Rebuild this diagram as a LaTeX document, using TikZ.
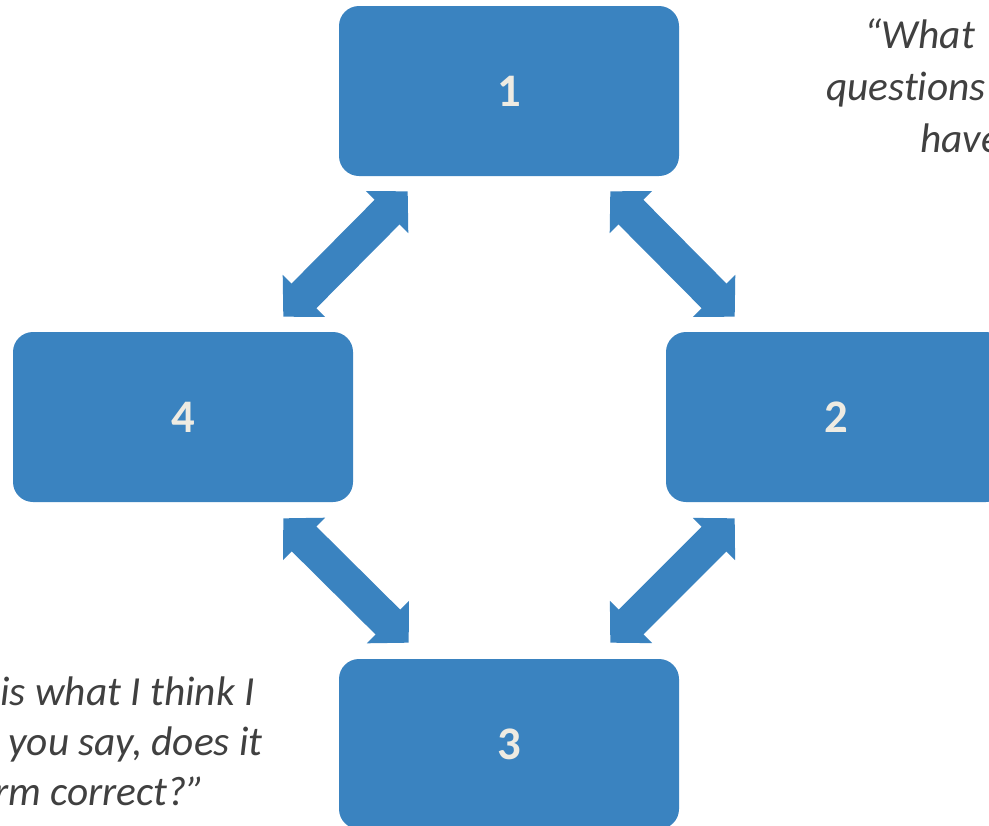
\documentclass[tikz,border=0pt]{standalone}
\usepackage{fontspec}
\setmainfont{Carlito}[Ligatures=NoCommon]
\usetikzlibrary{arrows.meta,calc}
\definecolor{boxblue}{RGB}{58,131,192}
\definecolor{numtext}{RGB}{238,235,226}
\definecolor{quotetext}{RGB}{64,64,64}
\begin{document}
\begin{tikzpicture}[x=0.75pt,y=-0.75pt,
  stepbox/.style={fill=boxblue, rounded corners=15pt, minimum width=255pt, minimum height=127.5pt, inner sep=0pt, text=numtext, font=\fontsize{35}{42}\selectfont\bfseries},
  dblarrow/.style={draw=boxblue, line width=26.25pt, {Triangle[length=22pt,width=43.5pt]}-{Triangle[length=22pt,width=43.5pt]}},
  quote/.style={text=quotetext, font=\fontsize{31}{38}\selectfont\itshape, inner sep=0pt}]
\useasboundingbox (0,0) rectangle (989,825);
\clip (0,0) rectangle (989,825);
\node[stepbox] (b1) at (509,91) {1};
\node[stepbox] (b2) at (836,417) {2};
\node[stepbox] (b3) at (509,744) {3};
\node[stepbox] (b4) at (183,417) {4};
\draw[dblarrow] ($(b4.north east)+(-70,-15)$) -- ($(b1.south west)+(69,15)$);
\draw[dblarrow] ($(b1.south east)+(-69,15)$) -- ($(b2.north west)+(69,-15)$);
\draw[dblarrow] ($(b2.south west)+(69,16)$) -- ($(b3.north east)+(-69,-16)$);
\draw[dblarrow] ($(b3.north west)+(70,-16)$) -- ($(b4.south east)+(-70,16)$);
\node[quote, anchor=base west] (q1a) at (864,48) {“What};
\node[quote, anchor=base west] (q1b) at (826,100) {quest\kern0pt ions};
\node[quote, anchor=base west] (q1c) at (920,152) {have};
\node[quote, anchor=base east] (q2a) at (255,705) {is what I think I};
\node[quote, anchor=base east] (q2b) at (263,755) {you say, does it};
\node[quote, anchor=base east] (q2c) at (205,805) {rm correct?”};
\end{tikzpicture}
\end{document}
